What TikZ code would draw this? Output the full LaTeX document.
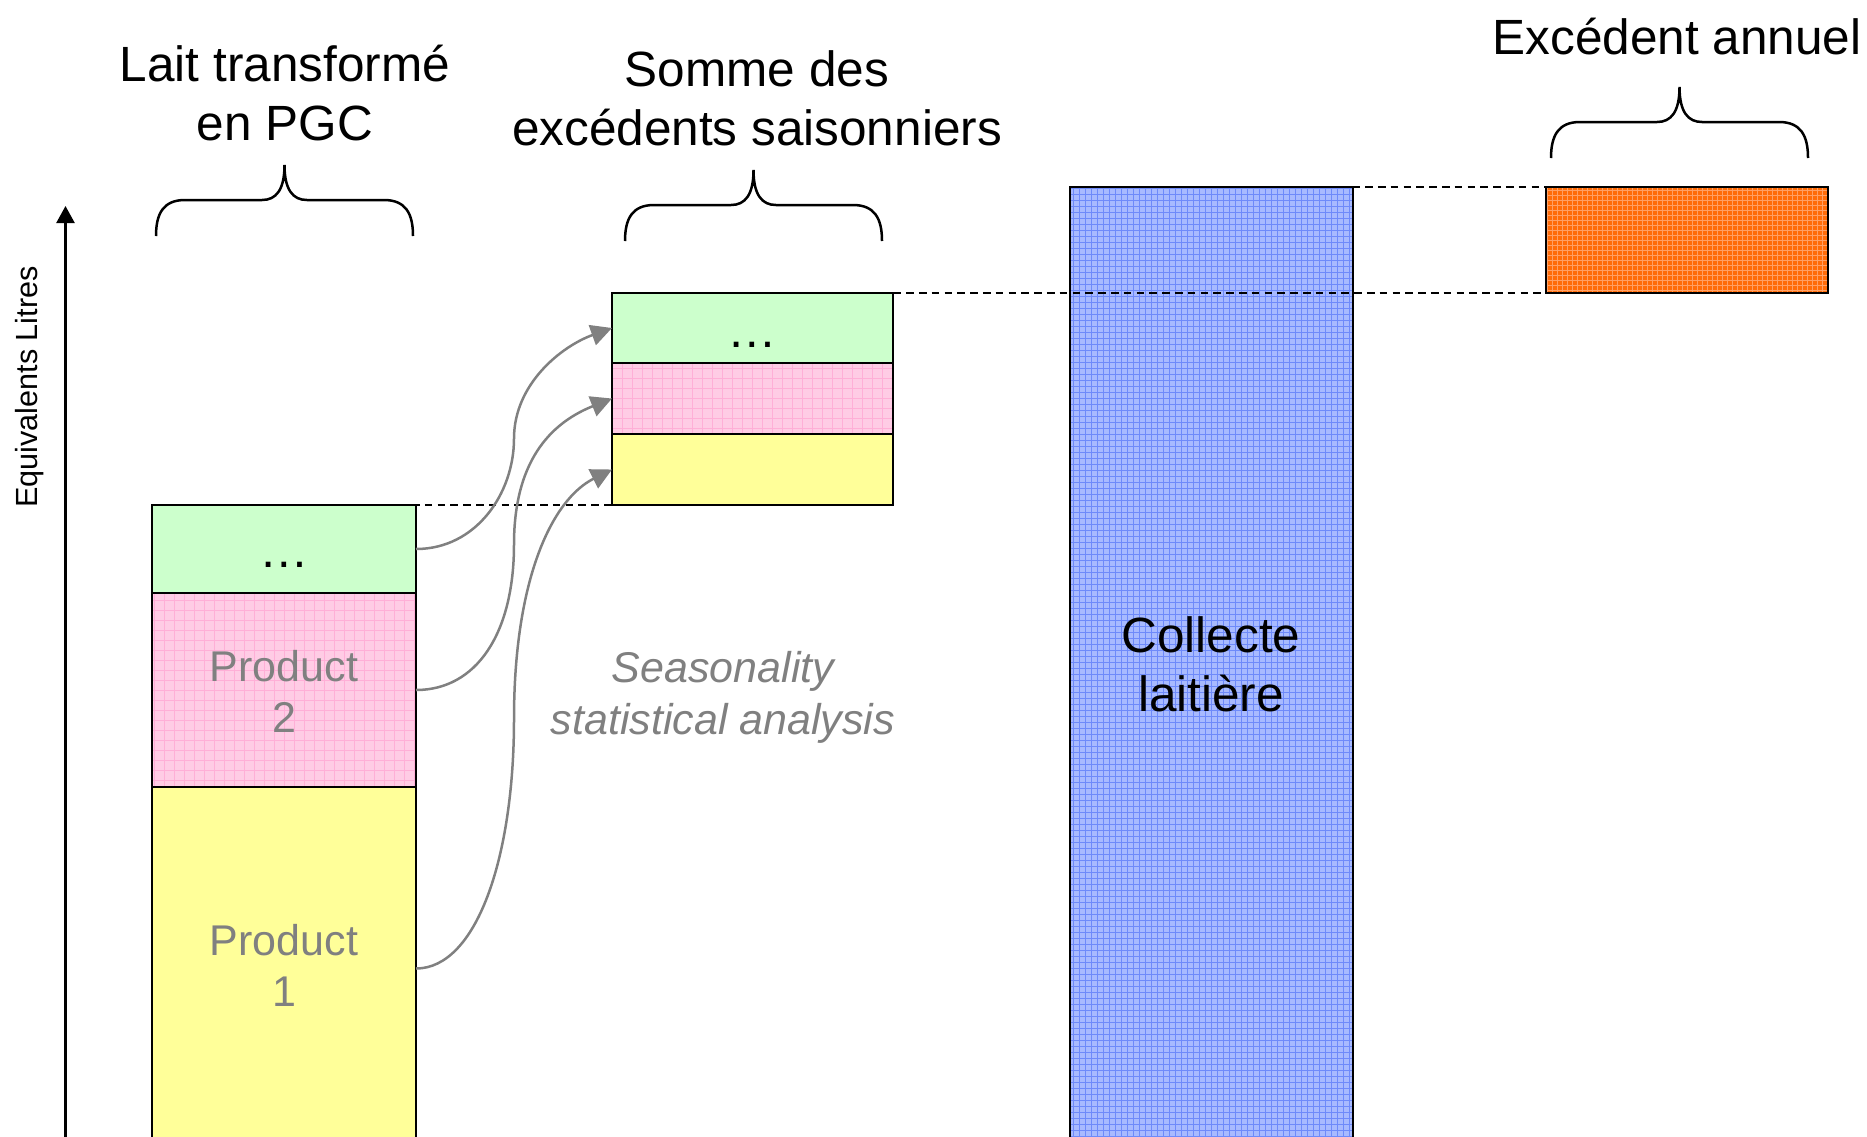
\documentclass[tikz,border=0pt]{standalone}
\usepackage{fontspec}
\setmainfont{Liberation Sans}
\usetikzlibrary{arrows.meta,calc}
\definecolor{cgreen}{RGB}{204,255,204}
\definecolor{cpink}{RGB}{255,204,229}
\definecolor{cpinkline}{RGB}{255,175,215}
\definecolor{cyellow}{RGB}{255,255,153}
\definecolor{cblue}{RGB}{168,186,255}
\definecolor{cblueline}{RGB}{110,138,250}
\definecolor{corange}{RGB}{255,108,8}
\definecolor{corangeline}{RGB}{255,160,100}
\definecolor{cgray}{RGB}{128,128,128}
\begin{document}
\begin{tikzpicture}[x=0.5pt,y=-0.5pt,
  bar/.style={draw=black, line width=1.45pt, inner sep=0pt, outer sep=0pt, anchor=north west},
  pinktex/.style={fill=cpink, path picture={\draw[cpinkline, line width=0.5pt, step=5pt] (path picture bounding box.south west) grid (path picture bounding box.north east);}},
  bluetex/.style={fill=cblue, path picture={\draw[cblueline, line width=0.35pt, step=3pt] (path picture bounding box.south west) grid (path picture bounding box.north east);}},
  orangetex/.style={fill=corange, path picture={\draw[corangeline, line width=0.45pt, step=2.5pt] (path picture bounding box.south west) grid (path picture bounding box.north east);}},
  dashline/.style={draw=black, line width=1.3pt, dash pattern=on 3.8pt off 2.6pt},
  lbl/.style={font=\fontsize{24.75}{29.5}\selectfont, align=center, inner sep=0pt, anchor=base},
  plbl/.style={font=\fontsize{21.5}{25.5}\selectfont, text=cgray, align=center, inner sep=0pt, anchor=base},
  slbl/.style={font=\fontsize{21.5}{26}\selectfont\itshape, text=cgray, align=center, inner sep=0pt, anchor=base},
  axlbl/.style={font=\fontsize{15.3}{18}\selectfont, inner sep=0pt, rotate=90, anchor=base},
  conn/.style={draw=cgray, line width=1.25pt, -{Triangle[length=10.5pt,width=10.5pt]}},
  bracestyle/.style={draw=black, line width=1.25pt},
  curlybrace/.pic={\draw[bracestyle] (0,71) .. controls (0,49) and (7,35) .. (29,35) -- (106,35) .. controls (120,35) and (128.5,25) .. (128.5,0) .. controls (128.5,25) and (137,35) .. (151,35) -- (228,35) .. controls (250,35) and (257,49) .. (257,71);}
]
\useasboundingbox (0,0) rectangle (1867,1136);

% axis
\coordinate (axbot) at (65.5,1145);
\coordinate (axtop) at (65.5,206);
\draw[line width=1.2pt, -{Triangle[length=8.5pt,width=9pt]}] (axbot) -- (axtop);
\node[axlbl] (axl) at (37,387) {Equivalents Litres};

% left stack
\node[bar, fill=cgreen,  minimum width=132pt, minimum height=44pt]    (lg) at (152,505) {};
\node[bar, pinktex,      minimum width=132pt, minimum height=97pt]    (lp) at (152,593) {};
\node[bar, fill=cyellow, minimum width=132pt, minimum height=181.5pt] (ly) at (152,787) {};

% middle stack
\node[bar, fill=cgreen,  minimum width=140.5pt, minimum height=35pt]   (mg) at (612,293) {};
\node[bar, pinktex,      minimum width=140.5pt, minimum height=35.5pt] (mp) at (612,363) {};
\node[bar, fill=cyellow, minimum width=140.5pt, minimum height=35.5pt] (my) at (612,434) {};

% collecte and excedent
\node[bar, bluetex,   minimum width=141.5pt, minimum height=481.5pt] (blue) at (1070,187) {};
\node[bar, orangetex, minimum width=141pt,   minimum height=53pt]    (orange) at (1546,187) {};

% dashed guide lines
\draw[dashline] (lg.north) -- (my.south);
\draw[dashline] (mg.north) -- (orange.south);
\draw[dashline] (blue.north) -- (orange.north);

% braces
\pic at (156,165) {curlybrace};
\pic at (625,170) {curlybrace};
\pic at (1551,87) {curlybrace};

% titles
\node[lbl] (t1) at (285,140) {Lait transformé\\en PGC};
\node[lbl] (t2) at (757,145) {Somme des\\excédents saisonniers};
\node[lbl] (t3) at (1677,54) {Excédent annuel};
\node[lbl] (t4) at (1211,711) {Collecte\\laitière};

% box labels
\node[lbl] (d1) at (284,567) {…};
\node[lbl] (d2) at (752.5,347) {…};
\node[plbl] (t5) at (284,732) {Product\\2};
\node[plbl] (t6) at (284,1006) {Product\\1};
\node[slbl] (t7) at (723,734) {Seasonality\\statistical analysis};

% connectors
\coordinate (m1) at ($(lg.east)!0.5!(mg.west)$);
\coordinate (m2) at ($(lp.east)!0.5!(mp.west)$);
\coordinate (m3) at ($(ly.east)!0.5!(my.west)$);
\draw[conn] (lg.east) .. controls +(60,0) and +(0,55) .. (m1) .. controls +(0,-55) and +(-50,18) .. (mg.west);
\draw[conn] (lp.east) .. controls +(60,0) and +(0,90) .. (m2) .. controls +(0,-90) and +(-55,22) .. (mp.west);
\draw[conn] (ly.east) .. controls +(60,0) and +(0,140) .. (m3) .. controls +(0,-140) and +(-60,30) .. (my.west);
\end{tikzpicture}
\end{document}
